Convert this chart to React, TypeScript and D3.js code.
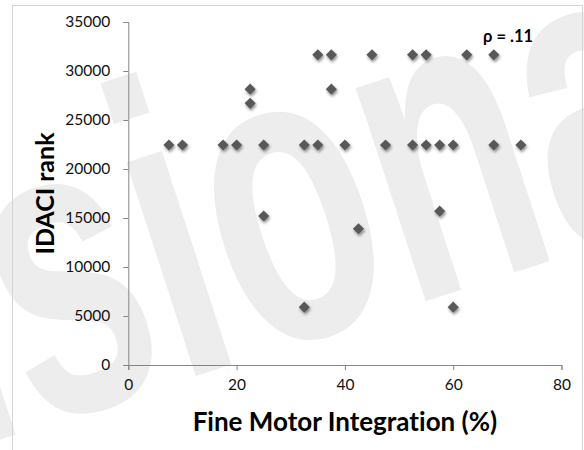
import React, { useEffect, useRef } from 'react';
import * as d3 from 'd3';

// Fine Motor Integration (%) vs IDACI rank
const fmiValues = [7.5, 10, 17.5, 20, 22.5, 22.5, 25, 25, 32.5, 32.5, 35, 35, 37.5, 37.5, 40, 42.5, 45, 47.5, 52.5, 52.5, 55, 55, 57.5, 57.5, 60, 60, 62.5, 67.5, 67.5, 72.5];
const idaciValues = [22450, 22450, 22450, 22450, 28150, 26700, 22450, 15200, 22450, 5900, 31650, 22450, 31650, 28150, 22450, 13900, 31650, 22450, 31650, 22450, 31650, 22450, 22450, 15700, 22450, 5900, 31650, 31650, 22450, 22450];
const xTicks = [0, 20, 40, 60, 80];
const yTicks = [0, 5000, 10000, 15000, 20000, 25000, 30000, 35000];

const WIDTH = 584;
const HEIGHT = 450;

export default function App() {
    const svgRef = useRef<SVGSVGElement>(null);

    useEffect(() => {
        document.body.style.margin = '0';
        if (!svgRef.current) return;

        const svg = d3.select(svgRef.current);
        svg.selectAll('*').remove();

        const x = d3.scaleLinear().domain([0, 80]).range([128.3, 561.5]);
        const y = d3.scaleLinear().domain([0, 35000]).range([365, 22]);

        const defs = svg.append('defs');
        const shadow = defs.append('filter')
            .attr('id', 'shadow')
            .attr('x', '-50%').attr('y', '-50%')
            .attr('width', '200%').attr('height', '200%');
        shadow.append('feGaussianBlur').attr('in', 'SourceAlpha').attr('stdDeviation', 1.4).attr('result', 'blur');
        shadow.append('feOffset').attr('in', 'blur').attr('dx', 1).attr('dy', 1.5).attr('result', 'off');
        shadow.append('feComponentTransfer').attr('in', 'off').attr('result', 'soft')
            .append('feFuncA').attr('type', 'linear').attr('slope', 0.45);
        const merge = shadow.append('feMerge');
        merge.append('feMergeNode').attr('in', 'soft');
        merge.append('feMergeNode').attr('in', 'SourceGraphic');

        svg.append('rect')
            .attr('width', WIDTH).attr('height', HEIGHT)
            .attr('fill', '#fff');

        // watermark
        svg.append('text')
            .attr('transform', 'translate(-38,452) rotate(-18) scale(0.64,1)')
            .attr('font-family', '"Liberation Sans", Arial, sans-serif')
            .attr('font-weight', 'bold')
            .attr('font-size', 425)
            .attr('fill', '#ededed')
            .text('isional');

        // outer frame
        svg.append('rect')
            .attr('x', 12.5).attr('y', 5.5)
            .attr('width', 570).attr('height', 470)
            .attr('fill', 'none')
            .attr('stroke', '#d4d4d4');

        const font = 'Lato, "Open Sans", sans-serif';

        const yAxis = svg.append('g')
            .attr('transform', `translate(${x(0)},0)`)
            .call(d3.axisLeft(y).tickValues(yTicks).tickSize(5).tickPadding(13).tickFormat(d3.format('d')));
        const xAxis = svg.append('g')
            .attr('transform', `translate(0,${y(0)})`)
            .call(d3.axisBottom(x).tickValues(xTicks).tickSize(5).tickPadding(9).tickFormat(d3.format('d')));

        [yAxis, xAxis].forEach(a => {
            a.select('.domain').attr('stroke', '#868686');
            a.selectAll('.tick line').attr('stroke', '#868686');
            a.selectAll('.tick text')
                .attr('fill', '#111')
                .attr('font-family', font)
                .attr('font-size', 15.5);
        });

        // points
        const diamond = d3.symbol().type(d3.symbolSquare).size(62);
        svg.append('g')
            .attr('filter', 'url(#shadow)')
            .selectAll('path')
            .data(d3.range(fmiValues.length))
            .join('path')
            .attr('transform', i => `translate(${x(fmiValues[i])},${y(idaciValues[i])}) rotate(45)`)
            .attr('d', diamond)
            .attr('fill', '#595959');

        svg.append('text')
            .attr('x', x(0) + (x(80) - x(0)) / 2)
            .attr('y', 431)
            .attr('text-anchor', 'middle')
            .attr('font-family', font)
            .attr('font-weight', 'bold')
            .attr('font-size', 26)
            .style('font-variant-ligatures', 'none')
            .attr('fill', '#000')
            .text('Fine Motor Integration (%)');

        svg.append('text')
            .attr('transform', `translate(54,${(y(0) + y(35000)) / 2}) rotate(-90)`)
            .attr('text-anchor', 'middle')
            .attr('font-family', font)
            .attr('font-weight', 'bold')
            .attr('font-size', 25)
            .attr('fill', '#000')
            .text('IDACI rank');

        svg.append('text')
            .attr('x', 483)
            .attr('y', 41.5)
            .attr('font-family', font)
            .attr('font-weight', 'bold')
            .attr('font-size', 16.5)
            .attr('fill', '#000')
            .text('ρ = .11');
    }, []);

    return <svg ref={svgRef} width={WIDTH} height={HEIGHT} style={{ display: 'block' }} />;
}
